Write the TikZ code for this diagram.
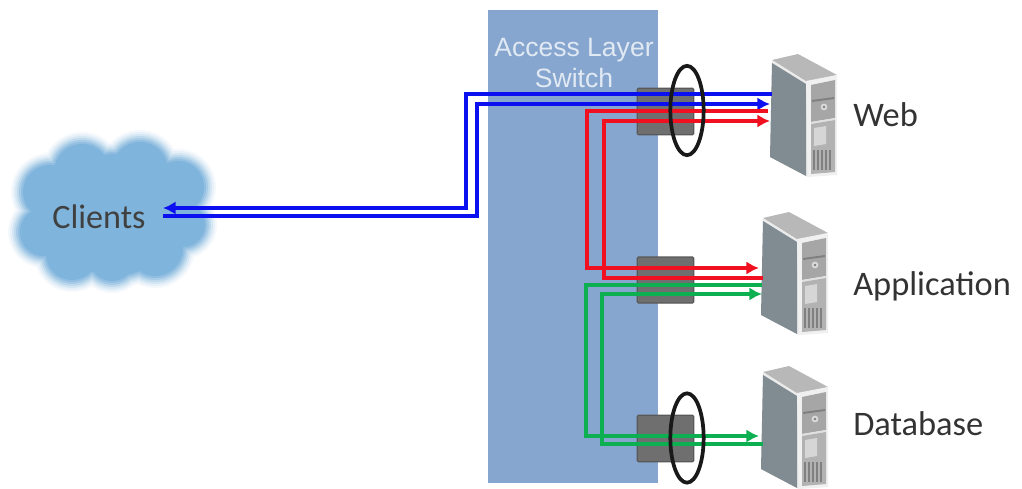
\documentclass[tikz,border=0pt]{standalone}
\usepackage{fontspec}
\setmainfont{Carlito}
\newfontfamily\arialfont{Liberation Sans}
\usetikzlibrary{arrows.meta,shapes.geometric}
\definecolor{panelc}{HTML}{86A6CF}
\definecolor{cloudc}{HTML}{7FB4DC}
\definecolor{boxc}{HTML}{6F6F6F}
\definecolor{linkb}{HTML}{0A10F0}
\definecolor{linkr}{HTML}{F01020}
\definecolor{linkg}{HTML}{0DB050}
\definecolor{sideface}{HTML}{808C92}
\tikzset{
  x=0.75pt,y=-0.75pt,
  link/.style={line width=2.9pt,line join=miter},
  tipped/.style={-{Latex[length=9.5pt,width=10pt]}},
  portbox/.style={draw=black!65,fill=boxc,line width=0.9pt,rounded corners=1pt},
  ring/.style={draw=black!90,line width=2.8pt,ellipse},
  lbl/.style={font=\fontsize{25.8}{28}\selectfont,text=black!80,anchor=west,inner sep=0pt},
  server/.pic={
    \fill[black!28] (0,0) -- (26,-6) -- (65,15) -- (35,22) -- cycle;
    \fill[black!8] (0,0) -- (35,22) -- (36,117) -- (-2,97) -- cycle;
    \fill[sideface] (0,3) -- (34,24) -- (34,116) -- (-2,97) -- cycle;
    \fill[black!6] (34,21) -- (65,15) -- (65,115) -- (36,117) -- cycle;
    \fill[black!35] (39,25) -- (63,20) -- (63,58) -- (39,62) -- cycle;
    \fill[black!12] (39,62) -- (63,58) -- (63,60) -- (39,64) -- cycle;
    \fill[black!30] (39,64) -- (63,60) -- (63,112) -- (39,114) -- cycle;
    \fill[black!16] (42,68) -- (54,66) -- (54,84) -- (42,86) -- cycle;
    \fill[black!50] (40,40) -- (62,37) -- (62,39) -- (40,42) -- cycle;
    \fill[black!15] (52,47) circle (3.4);
    \fill[black!50] (52,47) circle (1.4);
    \foreach \vx in {42,46,50,54,58}
      \draw[black!50,line width=1pt] (\vx,90) -- (\vx,110);
  }
}
\begin{document}
\begin{tikzpicture}
\useasboundingbox (0,0) rectangle (1022,489);
% cloud with a soft edge
\foreach \grow/\shade in {13/8,11/18,9/32,7/50,5/68,3/85,1/100}{
  \fill[cloudc!\shade!white]
    (82,172) circle ({27+\grow}) (140,170) circle ({27+\grow})
    (178,187) circle ({25+\grow}) (183,225) circle ({21+\grow})
    (50,192) circle ({26+\grow}) (44,232) circle ({23+\grow})
    (72,254) circle ({25+\grow}) (112,258) circle ({22+\grow})
    (155,248) circle ({27+\grow}) (115,215) circle ({60+\grow});
}
\node[font=\fontsize{25.6}{28}\selectfont,text=black!75,inner sep=0pt] (clients) at (99,217) {Clients};
% switch panel
\node[fill=panelc,inner sep=0pt,minimum width=127.5pt,minimum height=354.75pt,anchor=north west] (panel) at (488,10) {};
\node[font=\arialfont\fontsize{19.9}{23}\selectfont,text=white!75!panelc,align=center,inner sep=0pt] (paneltitle) at (574,63) {Access Layer\\Switch};
% port boxes
\node[portbox,minimum width=42.5pt,minimum height=35pt,inner sep=0pt] (p1) at (665.5,111.5) {};
\node[portbox,minimum width=42.5pt,minimum height=34.5pt,inner sep=0pt] (p2) at (665.5,280) {};
\node[portbox,minimum width=42.5pt,minimum height=35pt,inner sep=0pt] (p3) at (665.5,438.5) {};
% servers
\pic at (772,60) {server};
\pic at (763,218) {server};
\pic at (763,372) {server};
% way points
\coordinate (cUp) at (163,208);
\coordinate (cDn) at (163,216);
\coordinate (wA) at (772,94);
\coordinate (wB) at (770,104);
\coordinate (wC) at (768,111);
\coordinate (wD) at (770,121);
\coordinate (aA) at (759,268);
\coordinate (aB) at (763,278);
\coordinate (aC) at (762,285);
\coordinate (aD) at (762,294);
\coordinate (dA) at (759,436);
\coordinate (dB) at (763,444);
\coordinate (n1) at (466,94);
\coordinate (n2) at (477,104);
\coordinate (n3) at (587,111);
\coordinate (n4) at (604,121);
\coordinate (n5) at (586,285);
\coordinate (n6) at (602,294);
% connectors
\draw[linkb,link,tipped] (wA) -- (n1) |- (cUp);
\draw[linkb,link,tipped] (cDn) -| (n2) -- (wB);
\draw[linkr,link,tipped] (wC) -- (n3) |- (aA);
\draw[linkr,link,tipped] (aB) -| (n4) -- (wD);
\draw[linkg,link,tipped] (aC) -- (n5) |- (dA);
\draw[linkg,link,tipped] (dB) -| (n6) -- (aD);
% rings
\node[ring,minimum width=25pt,minimum height=67pt,inner sep=0pt] (r1) at (687,110.5) {};
\node[ring,minimum width=25pt,minimum height=67pt,inner sep=0pt] (r2) at (687,438) {};
% labels
\node[lbl] (web) at (853,115) {Web};
\node[lbl] (app) at (853,286.5) {Application};
\node[lbl] (db) at (853,424) {Database};
\end{tikzpicture}
\end{document}
